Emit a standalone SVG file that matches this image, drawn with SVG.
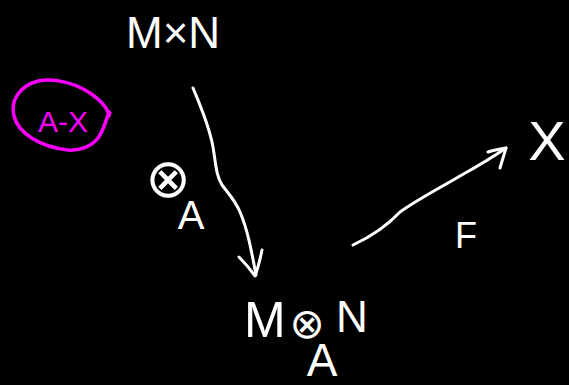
<svg xmlns="http://www.w3.org/2000/svg" width="569" height="385" viewBox="0 0 569 385">
<style>
.t{font-family:"Liberation Sans","DejaVu Sans",sans-serif;fill:#fff}
.m{font-family:"DejaVu Sans","Liberation Sans",sans-serif;fill:#fff}
.ln{fill:none;stroke:#fff;stroke-width:3;stroke-linecap:round;stroke-linejoin:round}
.pk{fill:none;stroke:#ff00ff;stroke-width:3.5;stroke-linecap:round;stroke-linejoin:round}
</style>
<rect width="569" height="385" fill="#000"/>
<g id="note">
<path class="pk" d="M109,116 C108,108 100,100 90,93 C75,83 55,78 38,81 C20,86 10,100 14,116 C18,133 40,147 68,150 C80,151 92,146 98,138 C104,130 106,120 109,112 L110,113"/>
<text x="38" y="132" font-size="30" style="font-family:'Liberation Sans',sans-serif;fill:#ff00ff">A-X</text>
</g>
<g id="MxN"><text class="t" x="126" y="48" font-size="44">M×N</text></g>
<g id="tensorA"><text class="m" x="168" y="197" font-size="54" text-anchor="middle">⊗</text><text class="t" x="191" y="229" font-size="40" text-anchor="middle">A</text></g>
<g id="MtensorN">
<text class="t" x="244" y="337" font-size="50">M</text>
<text class="m" x="307" y="338" font-size="42" text-anchor="middle">⊗</text>
<text class="t" x="336" y="332" font-size="44">N</text>
<text class="t" x="322" y="376" font-size="46" text-anchor="middle">A</text>
</g>
<g id="X"><text class="t" x="547" y="160" font-size="56" text-anchor="middle">X</text></g>
<g id="F"><text class="t" x="455" y="248" font-size="36">F</text></g>
<g id="connectors">
<path class="ln" d="M193,88 C200,105 209,125 213,147 C216,165 216,175 222,185 C228,193 235,200 240,212 C247,228 251,248 256,275"/>
<path class="ln" d="M239,257 C245,263 250,269 255,276 C258,268 260,260 262,250"/>
<path class="ln" d="M353,245 C368,238 385,228 400,212 C420,198 440,188 460,176 C478,166 493,157 506,148"/>
<path class="ln" d="M488,152 C494,150 500,149 506,148 C504,155 502,161 500,168"/>
</g>
</svg>
